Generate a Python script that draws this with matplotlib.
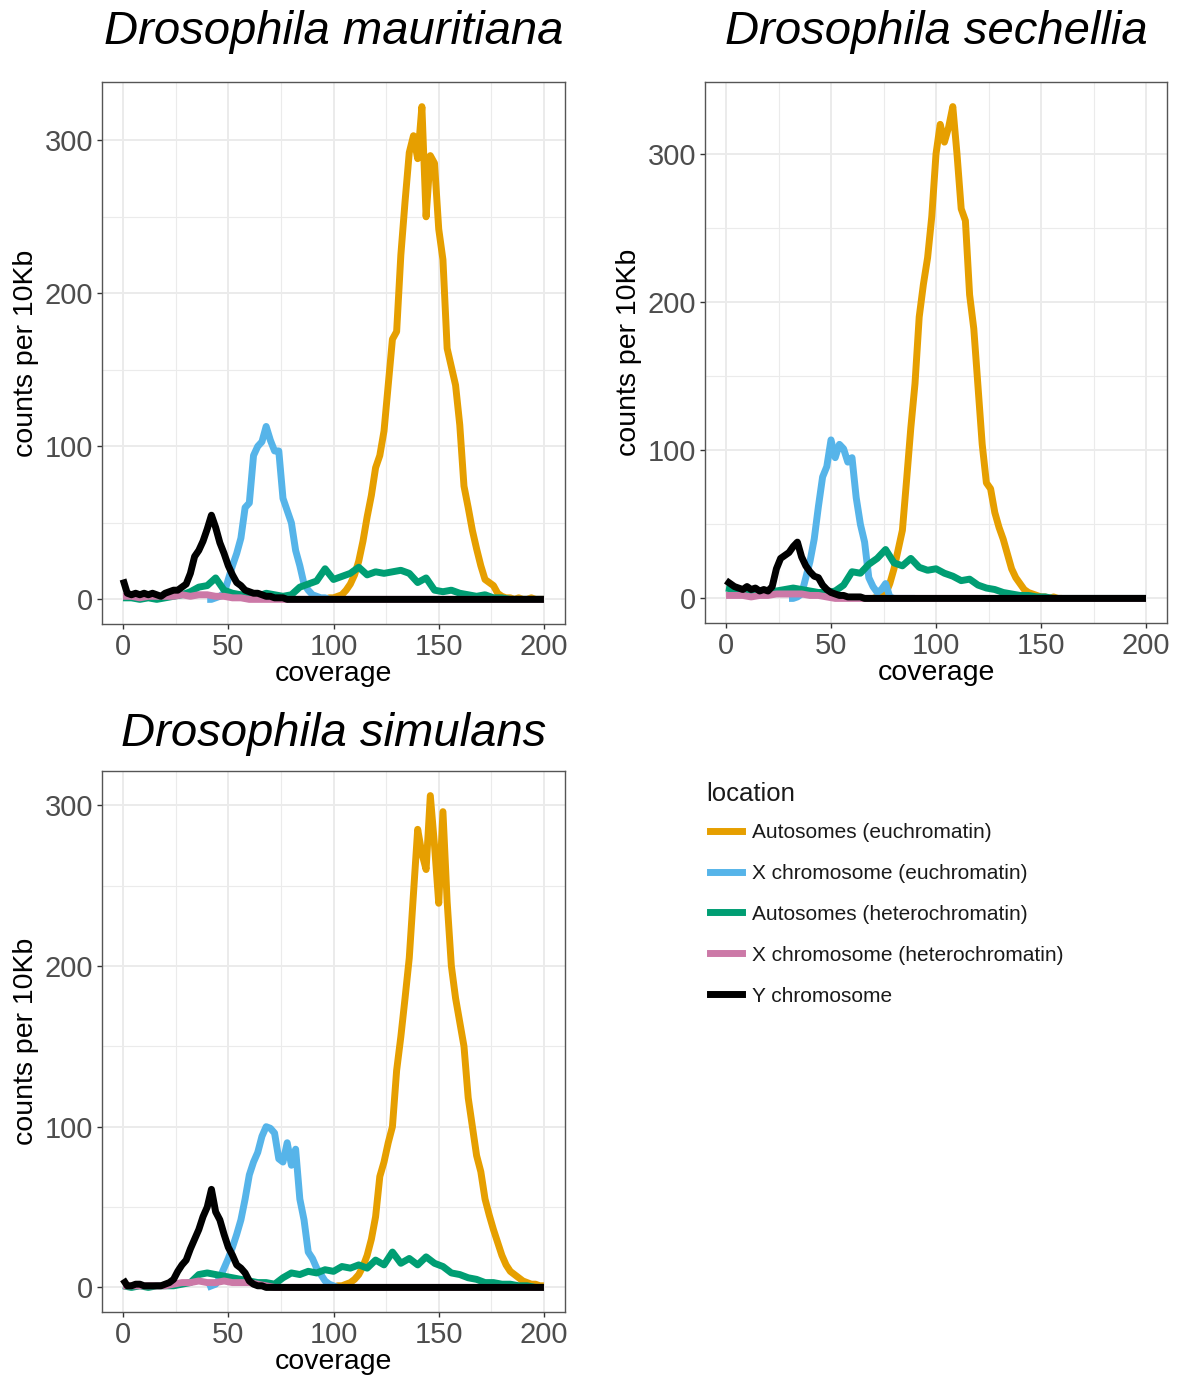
"""Coverage histograms per chromosome location for three Drosophila species."""

import matplotlib

matplotlib.use("Agg")
import matplotlib.pyplot as plt
import numpy as np
from matplotlib.lines import Line2D


LOCATIONS = [
    "Autosomes (euchromatin)",
    "X chromosome (euchromatin)",
    "Autosomes (heterochromatin)",
    "X chromosome (heterochromatin)",
    "Y chromosome",
]
COLORS = ["#E69F00", "#56B4E9", "#009E73", "#CC79A7", "#000000"]

# coverage bins; the low curves were read every 4x, the peaks every 2x
COV4 = np.arange(0, 201, 4)
COV2 = np.arange(0, 201, 2)

# ---- D. mauritiana ----
MAU_AUTO_EU_COV = np.arange(96, 201, 2)
MAU_AUTO_EU = [0, 1, 1, 2, 3, 6, 10, 16, 25, 38,
               54, 68, 86, 94, 110, 140, 170, 175, 225, 260,
               292, 303, 288, 322, 250, 290, 285, 242, 222, 164,
               152, 140, 114, 74, 60, 45, 33, 22, 13, 11,
               9, 4, 2, 1, 1, 0, 1, 0, 0, 1,
               0, 0, 0]
MAU_X_EU_COV = np.arange(40, 101, 2)
MAU_X_EU = [0, 0, 1, 2, 4, 13, 22, 30, 40, 60,
            63, 94, 100, 103, 113, 104, 97, 97, 66, 58,
            50, 32, 22, 10, 6, 3, 2, 1, 1, 0,
            0]
MAU_AUTO_HET = [1, 1, 0, 1, 0, 1, 2, 3, 5, 8, 9, 14, 6, 4, 3, 3, 2, 4, 3, 2, 3, 8, 10, 12, 20,
                13, 15, 17, 21, 16, 18, 17, 18, 19, 17, 11, 14, 6, 5, 6, 4, 3, 2, 3, 1, 1,
                0, 0, 0, 0, 0]
MAU_X_HET = [2, 2, 1, 2, 2, 2, 2, 3, 2, 3, 3, 2, 2, 1, 1,
             0, 0, 0, 0, 0, 0, 0, 0, 0, 0, 0, 0, 0, 0, 0, 0, 0, 0, 0, 0, 0, 0, 0, 0, 0, 0,
             0, 0, 0, 0, 0, 0, 0, 0, 0, 0]
MAU_Y = [13, 4, 3, 4, 3, 4, 3, 4, 3, 2,
         4, 5, 6, 6, 8, 10, 17, 28, 32, 38,
         46, 55, 47, 37, 30, 22, 16, 11, 9, 6,
         5, 4, 4, 3, 2, 2, 1, 1, 1, 0,
         0, 0, 0, 0, 0, 0, 0, 0, 0, 0,
         0, 0, 0, 0, 0, 0, 0, 0, 0, 0,
         0, 0, 0, 0, 0, 0, 0, 0, 0, 0,
         0, 0, 0, 0, 0, 0, 0, 0, 0, 0,
         0, 0, 0, 0, 0, 0, 0, 0, 0, 0,
         0, 0, 0, 0, 0, 0, 0, 0, 0, 0,
         0]

# ---- D. sechellia ----
SEC_AUTO_EU_COV = np.arange(70, 161, 2)
SEC_AUTO_EU = [0, 1, 1, 3, 10, 20, 33, 46, 80, 115,
               145, 190, 212, 230, 258, 300, 320, 308, 318, 332,
               300, 263, 255, 205, 182, 143, 104, 78, 74, 58,
               48, 40, 30, 20, 14, 10, 6, 4, 3, 2,
               1, 1, 0, 1, 0, 0]
SEC_X_EU_COV = np.arange(30, 91, 2)
SEC_X_EU = [0, 0, 1, 3, 14, 25, 40, 62, 82, 89,
            107, 95, 104, 101, 92, 95, 68, 50, 38, 14,
            8, 4, 6, 10, 1, 0, 0, 0, 0, 0,
            0]
SEC_AUTO_HET = [7, 6, 5, 4, 5, 5, 5, 6, 7, 6, 5, 4, 4, 5, 9, 18, 17, 23, 27, 33, 24, 22, 27,
                21, 19, 20, 17, 15, 12, 13, 9, 7, 6, 4, 3, 2, 2, 1, 1,
                0, 0, 0, 0, 0, 0, 0, 0, 0, 0, 0, 0]
SEC_X_HET = [2, 2, 2, 1, 2, 2, 3, 3, 3, 3, 2, 2, 1,
             0, 0, 0, 0, 0, 0, 0, 0, 0, 0, 0, 0, 0, 0, 0, 0, 0, 0, 0, 0, 0, 0, 0, 0, 0, 0,
             0, 0, 0, 0, 0, 0, 0, 0, 0, 0, 0, 0]
SEC_Y = [12, 10, 8, 7, 6, 8, 6, 7, 5, 6,
         5, 8, 20, 27, 29, 31, 35, 38, 28, 22,
         18, 15, 14, 9, 6, 4, 3, 2, 2, 1,
         1, 1, 1, 0, 0, 0, 0, 0, 0, 0,
         0, 0, 0, 0, 0, 0, 0, 0, 0, 0,
         0, 0, 0, 0, 0, 0, 0, 0, 0, 0,
         0, 0, 0, 0, 0, 0, 0, 0, 0, 0,
         0, 0, 0, 0, 0, 0, 0, 0, 0, 0,
         0, 0, 0, 0, 0, 0, 0, 0, 0, 0,
         0, 0, 0, 0, 0, 0, 0, 0, 0, 0,
         0]

# ---- D. simulans ----
SIM_AUTO_EU_COV = np.arange(100, 201, 2)
SIM_AUTO_EU = [0, 1, 1, 2, 3, 5, 8, 13, 20, 30,
               44, 69, 78, 90, 100, 135, 156, 180, 205, 245,
               285, 270, 260, 306, 275, 239, 296, 240, 200, 180,
               165, 150, 118, 100, 82, 72, 55, 45, 36, 28,
               20, 14, 10, 8, 6, 4, 3, 2, 2, 1,
               1]
SIM_X_EU_COV = np.arange(40, 105, 2)
SIM_X_EU = [0, 1, 2, 6, 12, 18, 25, 33, 42, 55,
            70, 78, 84, 94, 100, 99, 96, 80, 78, 90,
            76, 86, 55, 42, 22, 18, 12, 8, 4, 2,
            1, 0, 0]
SIM_AUTO_HET = [1, 0, 1, 0, 1, 1, 1, 2, 3, 8, 9, 8, 7, 6, 5, 4, 3, 3, 2, 6, 9, 8, 10, 9, 11,
                10, 13, 12, 14, 12, 17, 14, 22, 15, 18, 14, 19, 15, 13, 9, 8, 6, 5, 3, 3, 2,
                2, 1, 1, 0, 0]
SIM_X_HET = [1, 1, 1, 1, 1, 1, 2, 3, 3, 4, 3, 3, 4, 3, 3, 3, 2, 1,
             0, 0, 0, 0, 0, 0, 0, 0, 0, 0, 0, 0, 0, 0, 0, 0, 0, 0, 0, 0, 0, 0, 0, 0, 0, 0,
             0, 0, 0, 0, 0, 0, 0]
SIM_Y = [5, 1, 1, 2, 2, 1, 1, 1, 1, 1,
         2, 3, 5, 10, 14, 17, 24, 30, 36, 44,
         50, 61, 47, 42, 33, 25, 20, 14, 12, 9,
         4, 2, 1, 1, 0, 0, 0, 0, 0, 0,
         0, 0, 0, 0, 0, 0, 0, 0, 0, 0,
         0, 0, 0, 0, 0, 0, 0, 0, 0, 0,
         0, 0, 0, 0, 0, 0, 0, 0, 0, 0,
         0, 0, 0, 0, 0, 0, 0, 0, 0, 0,
         0, 0, 0, 0, 0, 0, 0, 0, 0, 0,
         0, 0, 0, 0, 0, 0, 0, 0, 0, 0,
         0]

SPECIES = ["Drosophila mauritiana", "Drosophila sechellia", "Drosophila simulans"]
SERIES = [
    [(MAU_AUTO_EU_COV, MAU_AUTO_EU), (MAU_X_EU_COV, MAU_X_EU), (COV4, MAU_AUTO_HET),
     (COV4, MAU_X_HET), (COV2, MAU_Y)],
    [(SEC_AUTO_EU_COV, SEC_AUTO_EU), (SEC_X_EU_COV, SEC_X_EU), (COV4, SEC_AUTO_HET),
     (COV4, SEC_X_HET), (COV2, SEC_Y)],
    [(SIM_AUTO_EU_COV, SIM_AUTO_EU), (SIM_X_EU_COV, SIM_X_EU), (COV4, SIM_AUTO_HET),
     (COV4, SIM_X_HET), (COV2, SIM_Y)],
]

W, H = 1186, 1385
# axes boxes in pixels: left, top, right, bottom; plus title gap in points
BOXES = [(102, 82, 565, 624), (705, 82, 1167, 623), (102, 771, 565, 1312)]
TITLE_PADS = [27, 27, 18]

GRID = "#EBEBEB"
TEXT_GREY = "#4D4D4D"
LW = 5.0


def draw_panel(ax, title, series, title_pad):
    for (cov, values), color in zip(series, COLORS):
        ax.plot(cov, values, color=color, lw=LW,
                solid_joinstyle="round", solid_capstyle="butt")
    ymax = max(max(v) for _, v in series)
    ax.set_xlim(-10, 210)
    ax.set_ylim(-0.05 * ymax, 1.05 * ymax)
    ax.set_xticks([0, 50, 100, 150, 200])
    ax.set_xticks([25, 75, 125, 175], minor=True)
    ax.set_yticks([0, 100, 200, 300])
    ax.set_yticks([50, 150, 250], minor=True)
    ax.grid(which="major", color=GRID, lw=1.4)
    ax.grid(which="minor", color=GRID, lw=0.8)
    ax.set_axisbelow(True)
    ax.tick_params(which="major", length=3.5, width=1, color="#333333",
                   labelsize=21, labelcolor=TEXT_GREY, pad=3)
    ax.tick_params(which="minor", length=0)
    for spine in ax.spines.values():
        spine.set_color("#555555")
        spine.set_linewidth(1.0)
    ax.set_xlabel("coverage", fontsize=20.5, labelpad=0)
    ax.set_ylabel("counts per 10Kb", fontsize=20.5, labelpad=4)
    ax.set_title(title, fontsize=34, style="italic", pad=title_pad)


def main():
    plt.rcParams["font.family"] = ["Liberation Sans", "DejaVu Sans"]
    fig = plt.figure(figsize=(W / 100, H / 100), dpi=100)
    for (left, top, right, bottom), title, series, pad in zip(BOXES, SPECIES, SERIES, TITLE_PADS):
        ax = fig.add_axes([left / W, 1 - bottom / H, (right - left) / W, (bottom - top) / H])
        draw_panel(ax, title, series, pad)

    fig.text(706 / W, 1 - 794 / H, "location", fontsize=18.5, va="center", ha="left",
             color="#1a1a1a")
    handles = [Line2D([], [], color=c, lw=LW) for c in COLORS]
    leg = fig.legend(handles, LOCATIONS, loc="upper left",
                     bbox_to_anchor=(710 / W, 1 - 823 / H), frameon=False,
                     fontsize=15, handlelength=1.54, handletextpad=0.48,
                     labelspacing=1.05, borderpad=0, borderaxespad=0)
    for text in leg.get_texts():
        text.set_color("#1a1a1a")
    fig.savefig("out.png", dpi=100, facecolor="white")


if __name__ == "__main__":
    main()
